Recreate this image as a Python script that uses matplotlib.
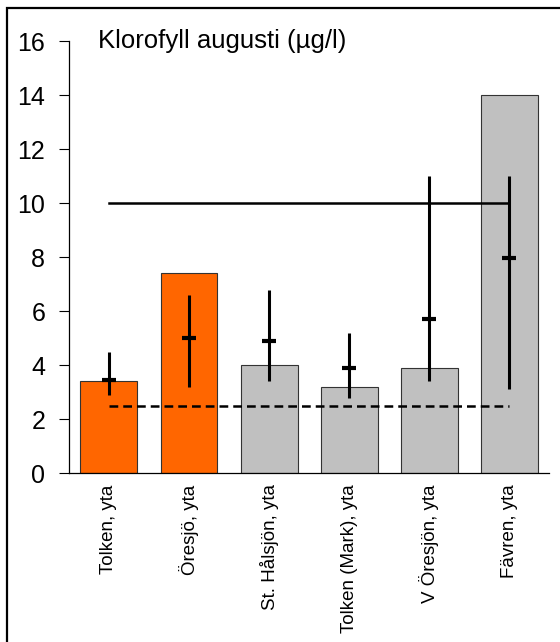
import matplotlib
matplotlib.use("Agg")
from matplotlib import pyplot as plt
from matplotlib.patches import Rectangle
import numpy as np

plt.rcParams['font.family'] = ['Liberation Sans', 'DejaVu Sans']

# sjöar och värden (klorofyll, µg/l)
sjoar = ['Tolken, yta', 'Öresjö, yta', 'St. Hålsjön, yta',
         'Tolken (Mark), yta', 'V Öresjön, yta', 'Fävren, yta']
klorofyll = [3.4, 7.4, 4.0, 3.2, 3.9, 14.0]
medel = [3.45, 5.0, 4.9, 3.9, 5.7, 7.95]
minsta = [2.9, 3.2, 3.4, 2.8, 3.4, 3.1]
storsta = [4.5, 6.6, 6.8, 5.2, 11.0, 11.0]
farger = ['#FF6600', '#FF6600', '#C0C0C0', '#C0C0C0', '#C0C0C0', '#C0C0C0']
gransvarde_hog = 10
gransvarde_lag = 2.5

fig = plt.figure(figsize=(5.6, 6.42), dpi=100)
ax = fig.add_axes([0.123, 0.263, 0.858, 0.673])

x = np.arange(len(sjoar))
ax.bar(x, klorofyll, width=0.71, color=farger, edgecolor='#333333', linewidth=0.8, zorder=1)

# min-max och medelvärde
ax.vlines(x, minsta, storsta, color='black', linewidth=2.2, zorder=3)
ax.plot(x, medel, linestyle='none', marker='_', markersize=10, markeredgewidth=3,
        color='black', zorder=3)

# gränslinjer
ax.plot([x[0], x[-1]], [gransvarde_hog] * 2, color='black', linewidth=1.8, zorder=2)
ax.plot([x[0], x[-1]], [gransvarde_lag] * 2, color='black', linewidth=1.8,
        linestyle=(0, (3.5, 2)), zorder=2)

ax.set_xlim(-0.5, 5.5)
ax.set_ylim(0, 16)
ax.set_yticks(np.arange(0, 17, 2))
ax.tick_params(axis='y', direction='out', length=7, width=0.8, labelsize=18, pad=10)
ax.set_xticks(x)
ax.set_xticklabels(sjoar, rotation=90, fontsize=13.5)
ax.tick_params(axis='x', length=0, pad=8)

for side in ['top', 'right']:
    ax.spines[side].set_visible(False)
ax.spines['left'].set_linewidth(0.9)
ax.spines['bottom'].set_linewidth(0.9)

ax.text(0.06, 0.984, 'Klorofyll augusti (µg/l)', transform=ax.transAxes,
        fontsize=18.5, va='baseline', ha='left')

# ram (bara vänster- och överkant syns)
fig.patches.append(Rectangle((7 / 560, -0.1), 1.2, 1.1 - 7.5 / 642,
                             transform=fig.transFigure, fill=False,
                             edgecolor='black', linewidth=1.6))

fig.savefig('out.png', dpi=100)
